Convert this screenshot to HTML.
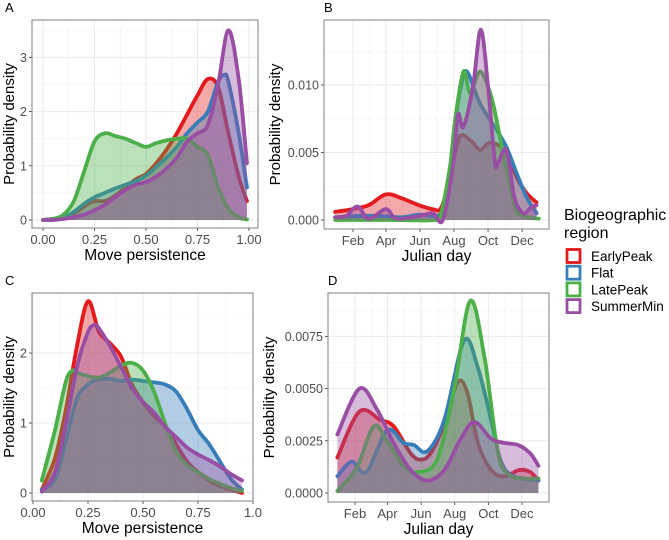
<!DOCTYPE html>
<html><head><meta charset="utf-8"><style>
body{margin:0;background:#fff;}
svg{display:block;font-family:"Liberation Sans",sans-serif;}
</style></head><body>
<svg id="chart" width="669" height="540" viewBox="0 0 669 540"></svg>
<script>
const seriesNames=["EarlyPeak","Flat","LatePeak","SummerMin"];
const seriesColors=["#E41A1C","#377EB8","#4DAF4A","#984EA3"];
// Panel A: move persistence (x,y) pairs
const aRedX=[0,0.05,0.1,0.15,0.2,0.25,0.3,0.35,0.4,0.45,0.5,0.55,0.6,0.65,0.7,0.75,0.8,0.85,0.9,0.95,0.99];
const aRedY=[0,0.02,0.05,0.12,0.25,0.35,0.35,0.45,0.6,0.75,0.85,1.05,1.3,1.6,1.95,2.3,2.6,2.45,1.6,0.8,0.35];
const aBlueX=[0,0.05,0.1,0.15,0.2,0.25,0.3,0.35,0.4,0.45,0.5,0.55,0.6,0.65,0.7,0.75,0.8,0.85,0.88,0.9,0.95,0.99];
const aBlueY=[0,0.02,0.05,0.15,0.3,0.42,0.5,0.58,0.65,0.72,0.82,0.98,1.15,1.35,1.6,1.8,2.0,2.55,2.68,2.55,1.6,0.6];
const aGreenX=[0,0.05,0.1,0.15,0.2,0.25,0.3,0.35,0.4,0.45,0.5,0.55,0.6,0.65,0.7,0.75,0.8,0.85,0.9,0.95,0.99];
const aGreenY=[0,0.02,0.1,0.35,0.9,1.45,1.6,1.55,1.5,1.42,1.35,1.42,1.47,1.5,1.5,1.35,1.2,0.6,0.2,0.05,0.01];
const aPurpleX=[0,0.05,0.1,0.15,0.2,0.25,0.3,0.35,0.4,0.45,0.5,0.55,0.6,0.65,0.7,0.75,0.8,0.85,0.9,0.95,0.99];
const aPurpleY=[0,0,0.02,0.05,0.1,0.18,0.28,0.42,0.55,0.65,0.7,0.8,0.95,1.15,1.45,1.6,1.75,2.5,3.5,2.6,1.05];
// Panel B: julian day
const bRedX=[0,30,60,91,120,150,175,190,205,218,227,245,260,275,290,307,325,343,361];
const bRedY=[0.0006,0.0008,0.0011,0.0019,0.0016,0.0011,0.0008,0.0009,0.003,0.0055,0.0063,0.0058,0.0052,0.0057,0.0056,0.005,0.0032,0.002,0.0013];
const bBlueX=[0,40,80,120,150,175,188,200,212,225,236,260,289,307,325,343,361];
const bBlueY=[0.0002,0.0003,0.0003,0.0002,0.0004,0.0003,0.0004,0.0012,0.0062,0.0098,0.011,0.0086,0.0067,0.0054,0.0035,0.0017,0.0005];
const bGreenX=[0,100,180,190,206,215,230,242,260,280,295,307,325,349,365];
const bGreenY=[0,0,0,0.0005,0.004,0.0074,0.011,0.0094,0.011,0.0091,0.0062,0.0037,0.0007,0.0002,0.0001];
const bPurpleX=[0,20,40,60,91,110,150,175,193,211,220,230,247,261,274,286,292,307,321,337,350,361];
const bPurpleY=[0.0002,0.0003,0.001,0.0001,0.0008,0.0001,0.0003,0.0005,0,0.004,0.0078,0.0069,0.0099,0.0141,0.0099,0.0044,0.0042,0.0052,0.0017,0.0005,0.0009,0.0011];
// Panel C
const cRedX=[0.04,0.1,0.15,0.2,0.25,0.3,0.35,0.4,0.45,0.5,0.55,0.6,0.65,0.7,0.75,0.8,0.85,0.9,0.95];
const cRedY=[0.05,0.5,1.2,2.1,2.74,2.3,2.14,1.95,1.55,1.3,1.1,0.95,0.7,0.45,0.3,0.18,0.1,0.05,0];
const cBlueX=[0.04,0.1,0.15,0.2,0.25,0.3,0.35,0.4,0.45,0.5,0.55,0.6,0.65,0.7,0.75,0.8,0.85,0.9,0.95];
const cBlueY=[0.05,0.2,0.75,1.35,1.55,1.63,1.63,1.6,1.62,1.6,1.58,1.55,1.45,1.2,0.9,0.7,0.45,0.2,0.05];
const cGreenX=[0.04,0.1,0.15,0.18,0.2,0.25,0.3,0.35,0.4,0.45,0.5,0.55,0.6,0.65,0.7,0.75,0.8,0.85,0.9,0.95];
const cGreenY=[0.18,0.9,1.6,1.75,1.72,1.67,1.65,1.72,1.82,1.86,1.75,1.45,1.0,0.6,0.4,0.3,0.2,0.13,0.07,0.03];
const cPurpleX=[0.04,0.1,0.15,0.2,0.25,0.28,0.3,0.35,0.4,0.45,0.5,0.55,0.6,0.65,0.7,0.75,0.8,0.85,0.9,0.95];
const cPurpleY=[0.02,0.3,1.0,1.8,2.3,2.4,2.35,2.1,1.8,1.5,1.3,1.15,0.95,0.8,0.65,0.55,0.47,0.38,0.27,0.18];
// Panel D
const dRedX=[0,40,78,102,133,151,169,194,218,236,255,279,303,330,350,365];
const dRedY=[0.0017,0.0039,0.0035,0.0032,0.0019,0.0016,0.0019,0.0033,0.0053,0.0048,0.0024,0.0011,0.0008,0.0011,0.001,0.0006];
const dBlueX=[0,26,53,90,120,139,163,194,230,255,279,297,320,365];
const dBlueY=[0.0008,0.0015,0.001,0.003,0.0024,0.0023,0.002,0.0035,0.0073,0.006,0.0035,0.0015,0.0008,0.0006];
const dGreenX=[0,35,66,90,120,145,181,212,241,267,291,310,340,365];
const dGreenY=[0.0001,0.0012,0.0032,0.0025,0.0013,0.001,0.0016,0.005,0.0092,0.0065,0.002,0.0009,0.0007,0.0007];
const dPurpleX=[0,40,72,102,133,163,194,224,249,279,303,328,350,365];
const dPurpleY=[0.0028,0.005,0.004,0.0024,0.0011,0.0006,0.0011,0.0026,0.0034,0.0026,0.0024,0.0023,0.0019,0.0013];
const monthLabels=["Feb","Apr","Jun","Aug","Oct","Dec"];
const monthDays=[32,91,152,213,274,335];
const aTicksX=[0,0.25,0.5,0.75,1.0];const aTickLabX=["0.00","0.25","0.50","0.75","1.00"];
const aTicksY=[0,1,2,3];const aTickLabY=["0","1","2","3"];
const bTicksY=[0,0.005,0.01];const bTickLabY=["0.000","0.005","0.010"];
const cTicksX=[0,0.25,0.5,0.75,1.0];const cTickLabX=["0.00","0.25","0.50","0.75","1.0"];
const cTicksY=[0,1,2];const cTickLabY=["0","1","2"];
const dTicksY=[0,0.0025,0.005,0.0075];const dTickLabY=["0.0000","0.0025","0.0050","0.0075"];

const NS="http://www.w3.org/2000/svg";
const svg=document.getElementById('chart');
function mk(tag,attrs,parent){const e=document.createElementNS(NS,tag);for(const k in attrs)e.setAttribute(k,attrs[k]);(parent||svg).appendChild(e);return e;}
function smoothPath(pts){let d="M"+pts[0][0]+","+pts[0][1];for(let i=0;i<pts.length-1;i++){const p0=pts[Math.max(0,i-1)],p1=pts[i],p2=pts[i+1],p3=pts[Math.min(pts.length-1,i+2)];const c1=[p1[0]+(p2[0]-p0[0])/6,p1[1]+(p2[1]-p0[1])/6],c2=[p2[0]-(p3[0]-p1[0])/6,p2[1]-(p3[1]-p1[1])/6];d+=" C"+c1[0].toFixed(2)+","+c1[1].toFixed(2)+" "+c2[0].toFixed(2)+","+c2[1].toFixed(2)+" "+p2[0].toFixed(2)+","+p2[1].toFixed(2);}return d;}

function panel(cfg){
  const g=mk('g',{});
  
  
  const {L,R,T,B}=cfg;
  mk('rect',{x:L,y:T,width:R-L,height:B-T,fill:'#fff'},g);
  for(let i=0;i<cfg.xt.length-1;i++){const m=(cfg.sx(cfg.xt[i])+cfg.sx(cfg.xt[i+1]))/2;mk('line',{x1:m,x2:m,y1:T,y2:B,stroke:'#F2F2F2','stroke-width':0.6},g);}
  const ytv=cfg.yt.concat([cfg.yt[cfg.yt.length-1]+(cfg.yt[1]-cfg.yt[0])]);
  for(let i=0;i<ytv.length-1;i++){const m=(cfg.sy(ytv[i])+cfg.sy(ytv[i+1]))/2;if(m>T)mk('line',{x1:L,x2:R,y1:m,y2:m,stroke:'#F2F2F2','stroke-width':0.6},g);}
  cfg.xt.forEach((v,i)=>{const x=cfg.sx(v);mk('line',{x1:x,x2:x,y1:T,y2:B,stroke:'#EBEBEB','stroke-width':1},g);
    mk('line',{x1:x,x2:x,y1:B,y2:B+3,stroke:'#333','stroke-width':0.8},g);
    const t=mk('text',{x:x,y:B+16,'text-anchor':'middle','font-size':13,fill:'#4D4D4D'},g);t.textContent=cfg.xl[i];
    
    });
  cfg.yt.forEach((v,i)=>{const y=cfg.sy(v);mk('line',{x1:L,x2:R,y1:y,y2:y,stroke:'#EBEBEB','stroke-width':1},g);
    mk('line',{x1:L-3,x2:L,y1:y,y2:y,stroke:'#333','stroke-width':0.8},g);
    const t=mk('text',{x:L-5,y:y+4.5,'text-anchor':'end','font-size':12.5,fill:'#4D4D4D'},g);t.textContent=cfg.yl[i];
    
    });
  cfg.series.forEach((s,k)=>{
    const pts=s[0].map((x,i)=>[cfg.sx(x),cfg.sy(s[1][i])]);
    const d=smoothPath(pts);
    const f=mk('path',{d:d+" L"+pts[pts.length-1][0]+","+cfg.sy(0)+" L"+pts[0][0]+","+cfg.sy(0)+"Z",fill:seriesColors[k],'fill-opacity':0.38,stroke:'none'},g);
    
    
    const l=mk('path',{d:d,fill:'none',stroke:seriesColors[k],'stroke-width':3.8,'stroke-linejoin':'round','stroke-linecap':'round'},g);
    
    
  });
  mk('rect',{x:L,y:T,width:R-L,height:B-T,fill:'none',stroke:'#7F7F7F','stroke-width':1},g);
  const lab=mk('text',{x:cfg.labX,y:T-8,'font-size':13,fill:'#000'},g);lab.textContent=cfg.letter;
  
  
  const xt=mk('text',{x:(L+R)/2,y:B+32,'text-anchor':'middle','font-size':15.5,fill:'#000'},g);xt.textContent=cfg.xtitle;
  
  
  const yx=cfg.ytX,yy=(T+B)/2;
  const yt=mk('text',{x:yx,y:yy,'text-anchor':'middle','font-size':15,fill:'#000',transform:`rotate(-90 ${yx} ${yy})`},g);yt.textContent='Probability density';
  
  
}
panel({name:'panel-a',letter:'A',labX:5,L:32,R:258,T:20,B:228,sx:v=>43+v*206,sy:v=>220-v*54.2,xt:aTicksX,xl:aTickLabX,yt:aTicksY,yl:aTickLabY,xtitle:'Move persistence',ytX:14,
 series:[[aRedX,aRedY],[aBlueX,aBlueY],[aGreenX,aGreenY],[aPurpleX,aPurpleY]]});
panel({name:'panel-b',letter:'B',labX:324,L:324,R:549,T:20,B:229,sx:d=>353+(d-32)*0.558,sy:v=>220-v*13500,xt:monthDays,xl:monthLabels,yt:bTicksY,yl:bTickLabY,xtitle:'Julian day',ytX:280,
 series:[[bRedX,bRedY],[bBlueX,bBlueY],[bGreenX,bGreenY],[bPurpleX,bPurpleY]]});
panel({name:'panel-c',letter:'C',labX:5,L:32,R:253,T:293,B:501,sx:v=>33+v*220,sy:v=>493-v*70,xt:cTicksX,xl:cTickLabX,yt:cTicksY,yl:cTickLabY,xtitle:'Move persistence',ytX:14,
 series:[[cRedX,cRedY],[cBlueX,cBlueY],[cGreenX,cGreenY],[cPurpleX,cPurpleY]]});
panel({name:'panel-d',letter:'D',labX:328,L:328,R:549,T:293,B:502,sx:d=>355+(d-32)*0.551,sy:v=>493-v*20880,xt:monthDays,xl:monthLabels,yt:dTicksY,yl:dTickLabY,xtitle:'Julian day',ytX:274,
 series:[[dRedX,dRedY],[dBlueX,dBlueY],[dGreenX,dGreenY],[dPurpleX,dPurpleY]]});
const lg=mk('g',{});


const t1=mk('text',{x:564,y:220,'font-size':16,fill:'#000'},lg);t1.textContent='Biogeographic';
const t2=mk('text',{x:564,y:238,'font-size':16,fill:'#000'},lg);t2.textContent='region';
seriesNames.forEach((n,i)=>{const cy=256+i*16.7;
  const r=mk('rect',{x:567,y:cy-6.5,width:13,height:13,fill:'#fff',stroke:seriesColors[i],'stroke-width':2.8},lg);
  
  
  const t=mk('text',{x:591,y:cy+5,'font-size':13.5,fill:'#000'},lg);t.textContent=n;
  
  
});
</script>
</body></html>
